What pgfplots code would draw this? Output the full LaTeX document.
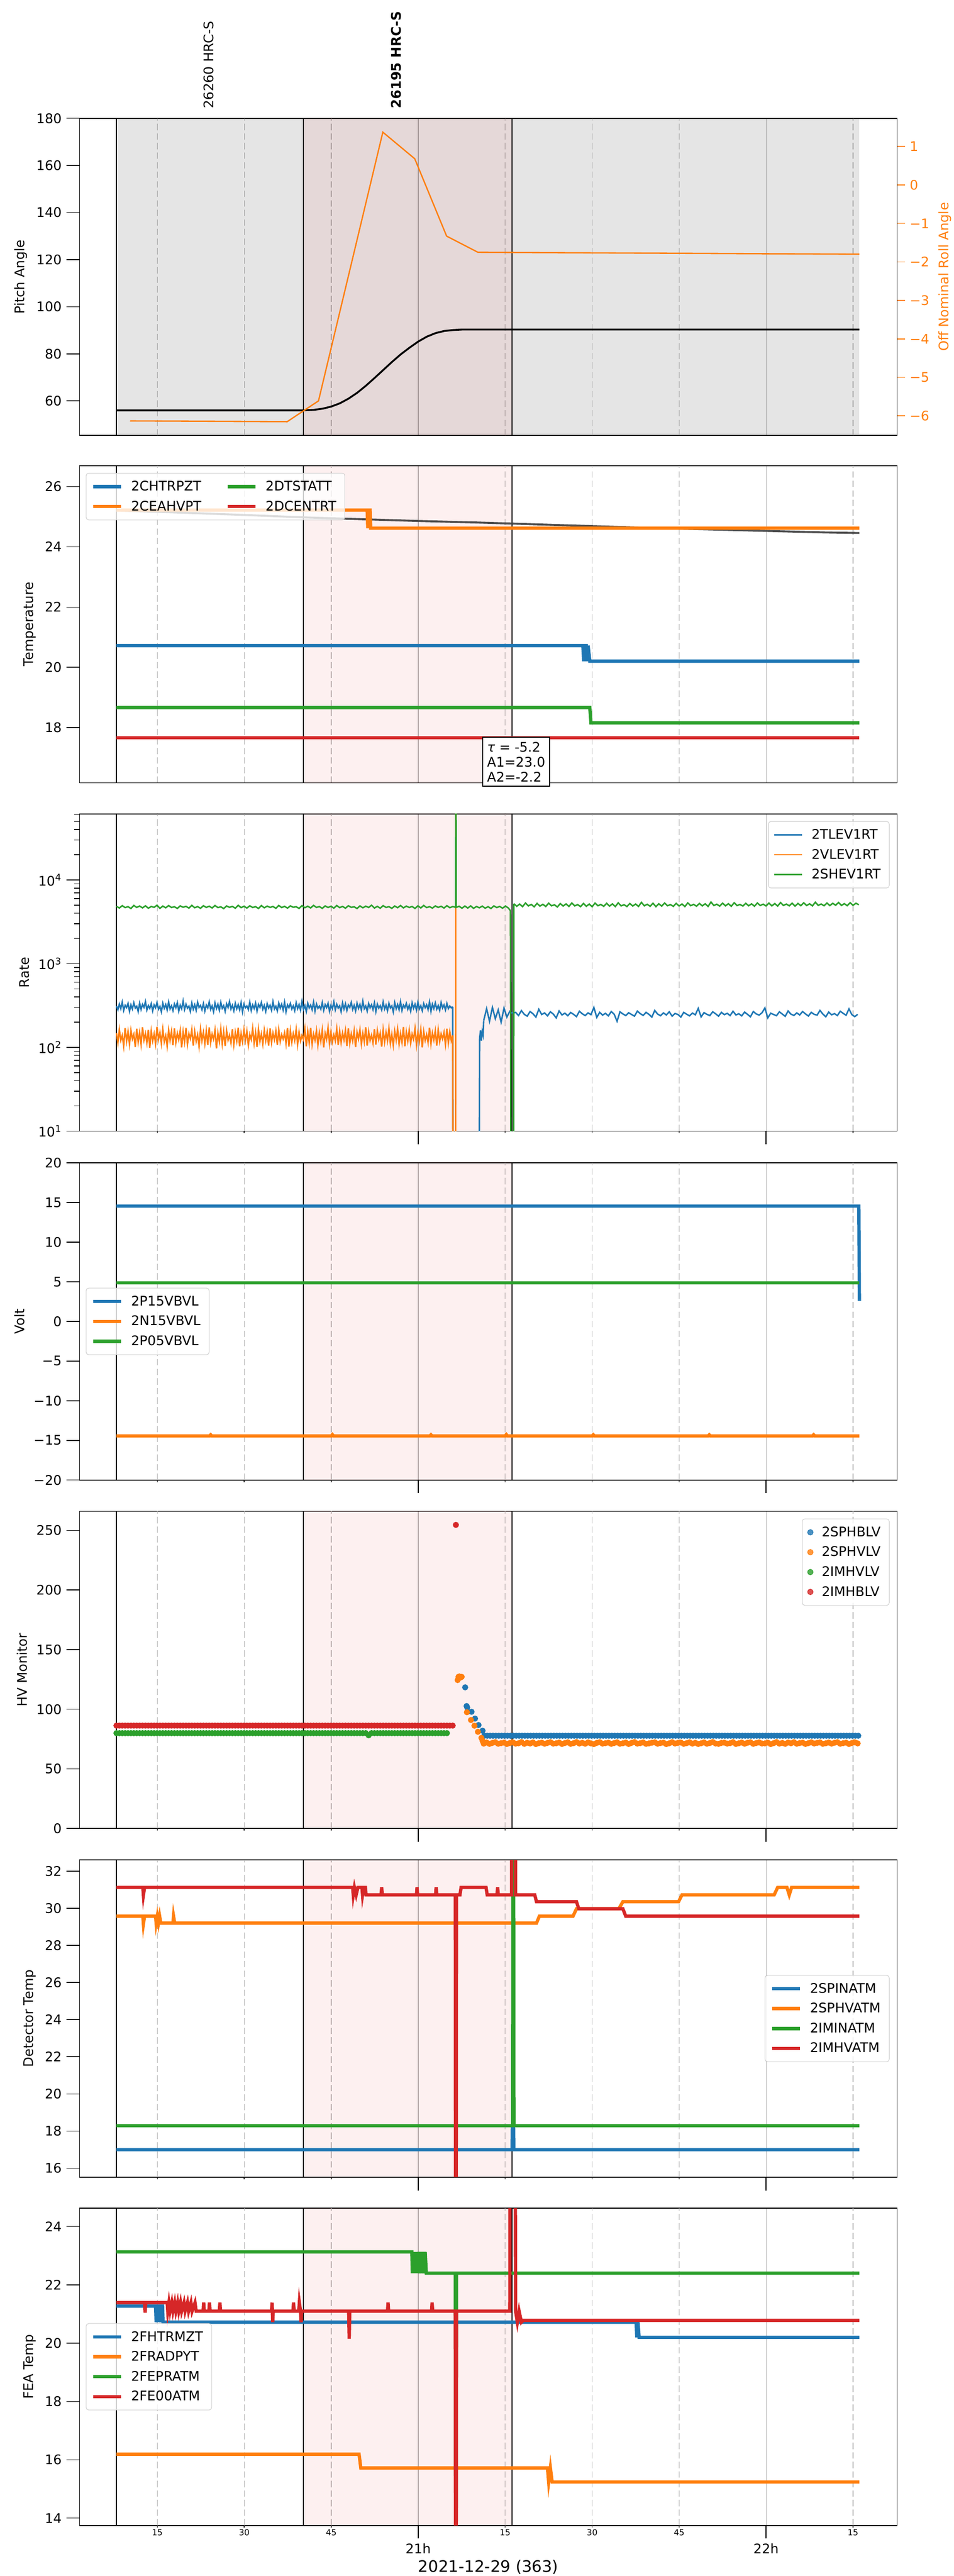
\documentclass[border=0pt]{standalone}
\usepackage{fontspec}
\setmainfont{DejaVu Sans}
\usepackage{pgfplots}
\pgfplotsset{compat=1.18}
\definecolor{tblue}{HTML}{1F77B4}
\definecolor{torange}{HTML}{FF7F0E}
\definecolor{tgreen}{HTML}{2CA02C}
\definecolor{tred}{HTML}{D62728}
\definecolor{gridc}{HTML}{B0B0B0}
\definecolor{shred}{RGB}{220,0,0}
\definecolor{fitc}{HTML}{444444}
\newcommand{\tenpt}{\fontsize{10}{12}\selectfont}
\newcommand{\smallpt}{\fontsize{6.3}{7.6}\selectfont}
\pgfplotsset{
  panel/.style={
    scale only axis, width=617pt, height=239.4pt, anchor=north west,
    xmin=1.6, xmax=142.6,
    xtick={60,120}, xticklabels={},
    extra x ticks={15,30,45,75,90,105,135}, extra x tick labels={},
    extra x tick style={grid=major, major tick length=1.5pt,
      major grid style={color=gridc, line width=0.5pt, dash pattern=on 4.8pt off 2.4pt}},
    xmajorgrids, major grid style={color=gridc, line width=0.5pt},
    tick align=outside, major tick length=10pt, minor tick length=4pt,
    xtick pos=left, ytick pos=left,
    tick style={black, line width=0.6pt},
    axis line style={line width=0.7pt},
    tick label style={font=\tenpt},
    label style={font=\tenpt},
    /pgf/number format/assume math mode=true,
    legend cell align=left,
    legend image code/.code={\draw[##1] (0pt,0pt) -- (21pt,0pt);},
    legend style={draw=black!20, fill=white, fill opacity=0.8, text opacity=1,
      rounded corners=2pt, font=\tenpt, inner xsep=4pt, inner ysep=3.5pt, row sep=1.7pt,
      nodes={text height=7.3pt, text depth=1pt, inner sep=2.5pt},
      /tikz/every odd column/.append style={column sep=4pt}},
  },
  shade/.style={draw=none, fill=shred, fill opacity=0.06, forget plot},
  vline/.style={black, line width=0.6pt, forget plot},
  tl/.style={line width=2.5pt},
}
\begin{document}
\begin{tikzpicture}
%================ Panel 1 =================
\begin{axis}[panel, at={(60.1pt,-89.28pt)}, ymin=45.3, ymax=180, ytick={60,80,...,180},
  ylabel={Pitch Angle}, xtick style={draw=none}]
\addplot[draw=none, fill=black, fill opacity=0.1, forget plot] coordinates {(7.95,0)(136.1,0)(136.1,300)(7.95,300)} -- cycle;
\addplot[shade] coordinates {(40.2,0)(76.2,0)(76.2,300)(40.2,300)} -- cycle;
\addplot[vline] coordinates {(7.95,0)(7.95,300)};
\addplot[vline] coordinates {(40.2,0)(40.2,300)};
\addplot[vline] coordinates {(76.2,0)(76.2,300)};
\addplot[black, line width=1.4pt] coordinates {(7.95,56.0)(40.2,56.0)(42,56.2)(43.5,56.7)(45,57.6)(46.5,59)(48,61)(49.5,63.5)(51,66.5)(52.5,69.8)(54,73.2)(55.5,76.6)(57,79.8)(58.5,82.6)(60,85.2)(61.5,87.3)(63,88.8)(64.5,89.7)(66,90.1)(67.5,90.3)(136.1,90.3)};
\coordinate (obsA) at (axis cs:23.9,180);
\coordinate (obsB) at (axis cs:56.2,180);
\end{axis}
\begin{axis}[scale only axis, width=617pt, height=239.4pt, anchor=north west, at={(60.1pt,-89.28pt)},
  xmin=1.6, xmax=142.6, axis x line=none, axis y line*=right,
  ymin=-6.51, ymax=1.73, ytick={-6,-5,-4,-3,-2,-1,0,1}, yticklabels={−6,−5,−4,−3,−2,−1,0,1},
  tick align=outside, major tick length=6pt, ytick style={torange, line width=0.6pt},
  y tick label style={font=\tenpt, text=torange}, ylabel={Off Nominal Roll Angle},
  ylabel style={font=\tenpt, text=torange}, axis line style={line width=0.7pt}]
\addplot[torange, line width=1pt] coordinates {(10.3,-6.13)(37.4,-6.15)(42.8,-5.61)(53.9,1.37)(59.4,0.68)(64.9,-1.33)(70.3,-1.75)(136.1,-1.80)};
\end{axis}
\node[rotate=90, anchor=west, inner sep=0pt, font=\tenpt] at ([yshift=7.2pt]obsA) {26260 HRC-S};
\node[rotate=90, anchor=west, inner sep=0pt, font=\tenpt\bfseries] at ([yshift=7.2pt]obsB) {26195 HRC-S};
%================ Panel 2 =================
\begin{axis}[panel, at={(60.1pt,-351.36pt)}, ymin=16.16, ymax=26.70, ytick={18,20,22,24,26},
  ylabel={Temperature}, xtick style={draw=none}, legend columns=2,
  legend style={at={(0.0076,0.977)}, anchor=north west, /tikz/every even column/.append style={column sep=16pt}}]
\addplot[shade] coordinates {(40.2,0)(76.2,0)(76.2,300)(40.2,300)} -- cycle;
\addplot[vline] coordinates {(7.95,0)(7.95,300)};
\addplot[vline] coordinates {(40.2,0)(40.2,300)};
\addplot[vline] coordinates {(76.2,0)(76.2,300)};
\addplot[fitc, line width=1.5pt, opacity=0.95, forget plot] coordinates {(7.95,25.21)(20,25.13)(30,25.06)(40.2,24.98)(50,24.92)(60,24.86)(70,24.81)(80,24.75)(90,24.69)(100,24.63)(110,24.58)(120,24.53)(130,24.48)(136.1,24.46)};
\addplot[tblue, tl] coordinates {(7.95,20.72)(88.4,20.72)(88.55,20.2)(88.7,20.72)(89.0,20.72)(89.15,20.2)(89.3,20.72)(89.6,20.2)(136.1,20.2)};
\addlegendentry{2CHTRPZT}
\addplot[tgreen, tl] coordinates {(7.95,18.66)(89.6,18.66)(89.8,18.15)(136.1,18.15)};
\addlegendentry{2DTSTATT}
\addplot[torange, tl] coordinates {(7.95,25.22)(51.2,25.22)(51.3,24.62)(51.4,25.22)(51.7,25.22)(51.8,24.62)(136.1,24.62)};
\addlegendentry{2CEAHVPT}
\addplot[tred, tl] coordinates {(7.95,17.66)(136.1,17.66)};
\addlegendentry{2DCENTRT}
\coordinate (tbox) at (axis cs:76.9,17.69);
\end{axis}
\node[draw=black, fill=white, line width=0.8pt, anchor=north, font=\fontsize{10}{11.3}\selectfont, align=left, inner sep=3.5pt] at (tbox) {{\itshape τ} = -5.2\\A1=23.0\\A2=-2.2};
%================ Panel 3 =================
\begin{axis}[panel, at={(60.1pt,-614.16pt)}, ymode=log, ymin=10, ymax=61660,
  ytick={10,100,1000,10000}, yticklabels={10\textsuperscript{1},10\textsuperscript{2},10\textsuperscript{3},10\textsuperscript{4}},
  minor ytick={20,30,40,50,60,70,80,90,200,300,400,500,600,700,800,900,2000,3000,4000,5000,6000,7000,8000,9000,20000,30000,40000,50000,60000},
  ylabel={Rate},
  legend style={at={(0.9907,0.977)}, anchor=north east}]
\addplot[shade] coordinates {(40.2,1)(76.2,1)(76.2,1e7)(40.2,1e7)} -- cycle;
\addplot[vline] coordinates {(7.95,1)(7.95,1e7)};
\addplot[vline] coordinates {(40.2,1)(40.2,1e7)};
\addplot[vline] coordinates {(76.2,1)(76.2,1e7)};
\addplot[tblue, line width=1.1pt] table[row sep=\\, x expr=\coordindex*0.25+7.95, y index=0] {312\\281\\329\\290\\347\\276\\318\\299\\335\\270\\322\\287\\341\\295\\310\\268\\338\\284\\326\\301\\352\\279\\316\\292\\333\\273\\321\\297\\344\\285\\309\\266\\337\\293\\325\\280\\349\\288\\314\\275\\330\\298\\342\\271\\319\\289\\357\\283\\328\\294\\311\\269\\339\\286\\323\\277\\346\\300\\317\\282\\334\\272\\320\\296\\350\\284\\313\\267\\340\\291\\327\\278\\345\\293\\315\\270\\331\\299\\353\\287\\318\\274\\336\\289\\324\\281\\343\\265\\329\\297\\312\\283\\348\\276\\321\\292\\338\\271\\326\\300\\344\\285\\317\\269\\333\\295\\319\\278\\351\\288\\310\\273\\339\\294\\328\\280\\346\\266\\322\\298\\335\\287\\313\\275\\342\\290\\325\\279\\354\\284\\316\\268\\337\\296\\320\\282\\347\\272\\330\\293\\311\\286\\343\\277\\324\\299\\336\\270\\318\\289\\349\\281\\327\\295\\314\\267\\340\\288\\332\\276\\321\\300\\345\\284\\317\\273\\338\\292\\326\\279\\356\\290\\312\\271\\334\\297\\323\\283\\341\\268\\329\\294\\315\\280\\348\\287\\319\\274\\337\\296\\313\\265\\343\\289\\325\\282\\351\\276\\320\\299\\336\\285\\318\\270\\340\\293\\327\\279\\346\\288\\314\\274\\333\\298\\322\\283\\350\\269\\328\\291\\339\\286\\316\\277\\344\\295\\321\\280\\335\\290\\312\\297\\306\\};
\addlegendentry{2TLEV1RT}
\addplot[tblue, line width=1.1pt, forget plot] coordinates {(65.95,306)(66.0,1)(70.5,1)(70.6,130)(70.75,160)(70.9,120)(71.05,155)(71.2,140)(71.3,210)};
\addplot[tblue, line width=1.1pt, forget plot] table[row sep=\\, x expr=\coordindex*0.5+71.3, y index=0] {210\\290\\205\\300\\220\\280\\200\\295\\230\\270\\255\\262\\240\\275\\248\\236\\268\\252\\230\\285\\247\\258\\238\\266\\250\\225\\272\\244\\256\\239\\261\\248\\233\\270\\252\\240\\258\\246\\300\\228\\262\\243\\255\\238\\268\\249\\205\\266\\251\\240\\259\\247\\236\\271\\253\\241\\262\\248\\230\\276\\250\\239\\258\\244\\266\\236\\254\\247\\230\\262\\249\\238\\257\\245\\292\\231\\260\\248\\240\\266\\252\\236\\262\\246\\255\\240\\270\\244\\252\\238\\264\\248\\232\\268\\251\\243\\259\\296\\225\\256\\247\\239\\266\\250\\235\\272\\249\\241\\258\\244\\268\\251\\237\\262\\248\\243\\276\\250\\232\\264\\245\\253\\240\\270\\255\\242\\288\\246\\233\\248\\};
\addplot[torange, line width=1.1pt] table[row sep=\\, x expr=\coordindex*0.25+7.95, y index=0] {148\\112\\163\\121\\139\\104\\170\\118\\155\\109\\160\\126\\143\\101\\167\\115\\151\\108\\174\\122\\146\\113\\162\\99\\157\\119\\145\\110\\176\\124\\150\\111\\165\\117\\138\\103\\161\\121\\156\\106\\168\\114\\148\\123\\160\\100\\153\\116\\171\\109\\146\\127\\163\\105\\155\\118\\142\\102\\166\\120\\152\\111\\158\\107\\173\\114\\144\\125\\161\\97\\149\\117\\167\\110\\154\\104\\159\\122\\140\\113\\165\\108\\151\\119\\172\\103\\147\\116\\162\\121\\156\\106\\143\\124\\169\\112\\150\\101\\164\\118\\145\\110\\160\\120\\153\\105\\168\\114\\148\\123\\157\\107\\163\\117\\142\\126\\149\\111\\170\\102\\158\\115\\146\\121\\164\\108\\152\\119\\139\\124\\166\\103\\155\\113\\171\\109\\144\\122\\159\\106\\150\\118\\162\\100\\147\\125\\173\\111\\153\\116\\141\\120\\167\\107\\156\\114\\149\\123\\160\\104\\169\\112\\145\\119\\158\\101\\152\\126\\163\\110\\147\\117\\174\\105\\154\\121\\140\\113\\165\\108\\159\\124\\148\\102\\162\\116\\151\\120\\170\\111\\143\\106\\157\\122\\166\\109\\146\\115\\175\\103\\153\\119\\161\\112\\144\\125\\168\\107\\150\\118\\164\\100\\155\\121\\142\\114\\172\\110\\149\\123\\158\\105\\163\\117\\145\\126\\151\\108\\167\\113\\154\\120\\139\\};
\addlegendentry{2VLEV1RT}
\addplot[torange, line width=1.1pt, forget plot] coordinates {(65.95,139)(66.0,1)(66.45,1)(66.5,1e6)(136.1,1e6)};
\addplot[tgreen, line width=1.1pt] table[row sep=\\, x expr=\coordindex*0.5+7.95, y index=0] {4850\\4620\\4930\\4680\\4800\\4560\\4960\\4700\\4880\\4640\\4910\\4600\\4820\\4710\\4990\\4580\\4870\\4650\\4940\\4690\\4790\\4570\\4900\\4720\\4840\\4610\\4970\\4660\\4810\\4590\\4920\\4700\\4860\\4630\\4950\\4680\\4780\\4550\\4890\\4710\\4830\\4600\\4980\\4670\\4850\\4620\\4910\\4690\\4800\\4560\\4940\\4650\\4870\\4700\\4820\\4590\\4960\\4680\\4840\\4610\\4900\\4720\\4790\\4570\\4930\\4660\\4860\\4630\\4970\\4700\\4810\\4580\\4890\\4690\\4850\\4610\\4950\\4670\\4830\\4600\\4920\\4710\\4780\\4560\\4900\\4650\\4860\\4690\\4990\\4620\\4840\\4600\\4930\\4700\\4800\\4580\\4880\\4660\\4950\\4640\\4870\\4690\\4820\\4570\\4910\\4630\\4960\\4680\\4800\\4610\\4890\\4700\\4850\\4620\\4930\\4660\\4810\\4720\\};
\addlegendentry{2SHEV1RT}
\addplot[tgreen, line width=1.1pt, forget plot] coordinates {(66.45,4720)(66.5,1e6)(66.55,4700)(67.05,4850)(67.55,4600)(68.05,4880)(68.55,4620)(69.05,4900)(69.55,4580)(70.05,4820)(70.55,4650)(71.05,4870)(71.55,4600)(72.05,4800)(72.55,4560)(73.05,4900)(73.55,4680)(74.05,4830)(74.55,4600)(75.05,4880)(75.55,4620)(75.9,4300)(76.0,1)(76.45,1)(76.5,5200)};
\addplot[tgreen, line width=1.1pt, forget plot] table[row sep=\\, x expr=\coordindex*0.5+76.5, y index=0] {5200\\4850\\5150\\4800\\5300\\4900\\5100\\4780\\5250\\4870\\5120\\4820\\5280\\4910\\5050\\4760\\5220\\4880\\5170\\4830\\5310\\4900\\5080\\4800\\5240\\4850\\5150\\4790\\5290\\4920\\5100\\4840\\5260\\4870\\5180\\4810\\5330\\4900\\5060\\4820\\5230\\4880\\5150\\4830\\5400\\4910\\5120\\4850\\5270\\4800\\5190\\4870\\5300\\4920\\5080\\4840\\5250\\4890\\5160\\4810\\5320\\4930\\5110\\4860\\5240\\4900\\5190\\4830\\5450\\4950\\5130\\4870\\5280\\4910\\5200\\4850\\5340\\4940\\5100\\4880\\5260\\4920\\5180\\4860\\5310\\4950\\5140\\4890\\5290\\4900\\5220\\4880\\5370\\4960\\5150\\4910\\5280\\4870\\5240\\4930\\5330\\4950\\5190\\4900\\5420\\4970\\5160\\4920\\5300\\4940\\5260\\4990\\5380\\4960\\5210\\4930\\5350\\4980\\5270\\5050\\};
\end{axis}
%================ Panel 4 =================
\begin{axis}[panel, at={(60.1pt,-877.5pt)}, ymin=-20, ymax=20, ytick={-20,-15,...,20},
  yticklabels={−20,−15,−10,−5,0,5,10,15,20}, ylabel={Volt},
  legend style={at={(0.0076,0.5)}, anchor=west}]
\addplot[shade] coordinates {(40.2,-100)(76.2,-100)(76.2,100)(40.2,100)} -- cycle;
\addplot[vline] coordinates {(7.95,-100)(7.95,100)};
\addplot[vline] coordinates {(40.2,-100)(40.2,100)};
\addplot[vline] coordinates {(76.2,-100)(76.2,100)};
\addplot[tblue, tl] coordinates {(7.95,14.54)(136.0,14.54)(136.1,2.6)};
\addlegendentry{2P15VBVL}
\addplot[torange, tl] coordinates {(7.95,-14.45)(24.0,-14.45)(24.2,-14.3)(24.4,-14.45)(45,-14.45)(45.2,-14.28)(45.4,-14.45)(62,-14.45)(62.2,-14.3)(62.4,-14.45)(75,-14.45)(75.2,-14.27)(75.4,-14.45)(90,-14.45)(90.2,-14.3)(90.4,-14.45)(110,-14.45)(110.2,-14.3)(110.4,-14.45)(128,-14.45)(128.2,-14.3)(128.4,-14.45)(136.1,-14.45)};
\addlegendentry{2N15VBVL}
\addplot[tgreen, tl] coordinates {(7.95,4.88)(136.1,4.88)};
\addlegendentry{2P05VBVL}
\end{axis}
%================ Panel 5 =================
\begin{axis}[panel, at={(60.1pt,-1140.5pt)}, ymin=0, ymax=266, ytick={0,50,...,250},
  ylabel={HV Monitor},
  legend style={at={(0.9907,0.977)}, anchor=north east},
  legend image code/.code={\draw[#1] plot coordinates {(10.5pt,0pt)};}]
\addplot[shade] coordinates {(40.2,-100)(76.2,-100)(76.2,400)(40.2,400)} -- cycle;
\addplot[vline] coordinates {(7.95,-100)(7.95,400)};
\addplot[vline] coordinates {(40.2,-100)(40.2,400)};
\addplot[vline] coordinates {(76.2,-100)(76.2,400)};
\addplot[tblue, only marks, mark=*, mark size=2.1pt] coordinates {(68.1,118.4)(68.35,102.7)(68.45,101.5)(69.2,97.9)(69.8,92.2)(70.4,86.8)(71.1,82.0)};
\addlegendentry{2SPHBLV}
\addplot[tblue, only marks, mark=*, mark size=2.1pt, forget plot] table[row sep=\\, x expr=\coordindex*0.5+71.4, y index=0] {77.8\\77.8\\77.8\\77.8\\77.8\\77.8\\77.8\\77.8\\77.8\\77.8\\77.8\\77.8\\77.8\\77.8\\77.8\\77.8\\77.8\\77.8\\77.8\\77.8\\77.8\\77.8\\77.8\\77.8\\77.8\\77.8\\77.8\\77.8\\77.8\\77.8\\77.8\\77.8\\77.8\\77.8\\77.8\\77.8\\77.8\\77.8\\77.8\\77.8\\77.8\\77.8\\77.8\\77.8\\77.8\\77.8\\77.8\\77.8\\77.8\\77.8\\77.8\\77.8\\77.8\\77.8\\77.8\\77.8\\77.8\\77.8\\77.8\\77.8\\77.8\\77.8\\77.8\\77.8\\77.8\\77.8\\77.8\\77.8\\77.8\\77.8\\77.8\\77.8\\77.8\\77.8\\77.8\\77.8\\77.8\\77.8\\77.8\\77.8\\77.8\\77.8\\77.8\\77.8\\77.8\\77.8\\77.8\\77.8\\77.8\\77.8\\77.8\\77.8\\77.8\\77.8\\77.8\\77.8\\77.8\\77.8\\77.8\\77.8\\77.8\\77.8\\77.8\\77.8\\77.8\\77.8\\77.8\\77.8\\77.8\\77.8\\77.8\\77.8\\77.8\\77.8\\77.8\\77.8\\77.8\\77.8\\77.8\\77.8\\77.8\\77.8\\77.8\\77.8\\77.8\\77.8\\77.8\\77.8\\77.8\\77.8\\};
\addplot[torange, only marks, mark=*, mark size=2.1pt] coordinates {(66.8,124.5)(66.95,127.2)(67.1,127.5)(67.3,126.6)(67.5,127.2)(68.4,97.5)(69.1,91.0)(69.7,86.2)(70.3,81.1)(70.9,76.0)(71.1,73.5)};
\addlegendentry{2SPHVLV}
\addplot[torange, only marks, mark=*, mark size=2.1pt, forget plot] table[row sep=\\, x expr=\coordindex*0.5+71.3, y index=0] {71.2\\72.1\\71.0\\71.8\\72.4\\71.1\\71.6\\72.0\\70.9\\71.7\\72.3\\71.2\\71.5\\72.5\\71.0\\71.9\\71.3\\72.2\\70.8\\71.6\\72.0\\71.1\\71.8\\72.4\\71.2\\71.5\\72.1\\70.9\\71.7\\72.3\\71.0\\71.6\\72.5\\71.3\\71.9\\71.1\\72.2\\71.4\\70.8\\71.8\\72.4\\71.2\\71.6\\72.0\\71.0\\71.7\\72.3\\71.1\\71.5\\72.1\\70.9\\71.8\\72.5\\71.2\\71.6\\72.2\\71.0\\71.4\\71.9\\72.3\\71.1\\71.7\\72.0\\70.8\\71.5\\72.4\\71.3\\71.8\\72.1\\71.0\\71.6\\72.3\\71.2\\71.9\\70.9\\71.5\\72.2\\71.1\\71.7\\72.5\\71.3\\71.0\\71.8\\72.0\\71.2\\71.6\\72.4\\70.9\\71.5\\72.1\\71.1\\71.9\\72.3\\71.0\\71.7\\72.2\\71.3\\71.4\\72.0\\70.8\\71.6\\72.5\\71.2\\71.8\\71.0\\72.1\\71.5\\72.4\\71.1\\71.7\\72.0\\70.9\\71.6\\72.3\\71.3\\71.8\\72.2\\71.0\\71.5\\72.1\\71.2\\71.9\\72.4\\71.1\\71.6\\72.0\\70.9\\71.7\\72.3\\71.4\\};
\addplot[tgreen, only marks, mark=*, mark size=2.1pt] table[row sep=\\, x expr=\coordindex*0.5+7.95, y index=0] {80\\80\\80\\80\\80\\80\\80\\80\\80\\80\\80\\80\\80\\80\\80\\80\\80\\80\\80\\80\\80\\80\\80\\80\\80\\80\\80\\80\\80\\80\\80\\80\\80\\80\\80\\80\\80\\80\\80\\80\\80\\80\\80\\80\\80\\80\\80\\80\\80\\80\\80\\80\\80\\80\\80\\80\\80\\80\\80\\80\\80\\80\\80\\80\\80\\80\\80\\80\\80\\80\\80\\80\\80\\80\\80\\80\\80\\80\\80\\80\\80\\80\\80\\80\\80\\80\\80\\78.2\\80\\80\\80\\80\\80\\80\\80\\80\\80\\80\\80\\80\\80\\80\\80\\80\\80\\80\\80\\80\\80\\80\\80\\80\\80\\80\\80\\};
\addlegendentry{2IMHVLV}
\addplot[tred, only marks, mark=*, mark size=2.1pt] table[row sep=\\, x expr=\coordindex*0.5+7.95, y index=0] {86.3\\86.3\\86.3\\86.3\\86.3\\86.3\\86.3\\86.3\\86.3\\86.3\\86.3\\86.3\\86.3\\86.3\\86.3\\86.3\\86.3\\86.3\\86.3\\86.3\\86.3\\86.3\\86.3\\86.3\\86.3\\86.3\\86.3\\86.3\\86.3\\86.3\\86.3\\86.3\\86.3\\86.3\\86.3\\86.3\\86.3\\86.3\\86.3\\86.3\\86.3\\86.3\\86.3\\86.3\\86.3\\86.3\\86.3\\86.3\\86.3\\86.3\\86.3\\86.3\\86.3\\86.3\\86.3\\86.3\\86.3\\86.3\\86.3\\86.3\\86.3\\86.3\\86.3\\86.3\\86.3\\86.3\\86.3\\86.3\\86.3\\86.3\\86.3\\86.3\\86.3\\86.3\\86.3\\86.3\\86.3\\86.3\\86.3\\86.3\\86.3\\86.3\\86.3\\86.3\\86.3\\86.3\\86.3\\86.3\\86.3\\86.3\\86.3\\86.3\\86.3\\86.3\\86.3\\86.3\\86.3\\86.3\\86.3\\86.3\\86.3\\86.3\\86.3\\86.3\\86.3\\86.3\\86.3\\86.3\\86.3\\86.3\\86.3\\86.3\\86.3\\86.3\\86.3\\86.3\\86.3\\};
\addlegendentry{2IMHBLV}
\addplot[tred, only marks, mark=*, mark size=2.1pt, forget plot] coordinates {(66.5,254.6)};
\end{axis}
%================ Panel 6 =================
\begin{axis}[panel, at={(60.1pt,-1403.6pt)}, ymin=15.52, ymax=32.6, ytick={16,18,...,32},
  ylabel={Detector Temp},
  legend style={at={(0.9907,0.5)}, anchor=east}]
\addplot[shade] coordinates {(40.2,0)(76.2,0)(76.2,100)(40.2,100)} -- cycle;
\addplot[vline] coordinates {(7.95,0)(7.95,100)};
\addplot[vline] coordinates {(40.2,0)(40.2,100)};
\addplot[vline] coordinates {(76.2,0)(76.2,100)};
\addplot[tblue, tl] coordinates {(7.95,17.0)(76.2,17.0)(76.25,18.2)(76.45,18.2)(76.5,17.0)(136.1,17.0)};
\addlegendentry{2SPINATM}
\addplot[torange, tl] coordinates {(7.95,29.57)(12.5,29.57)(12.6,29.15)(12.8,29.57)(14.7,29.57)(14.8,29.2)(15.0,29.57)(15.2,29.2)(15.4,29.57)(15.6,29.2)(17.7,29.2)(17.8,29.57)(18.0,29.2)(80.4,29.2)(80.9,29.57)(86.7,29.57)(87.3,29.97)(94.6,29.97)(95.3,30.35)(104.9,30.35)(105.5,30.72)(121.4,30.72)(122.0,31.12)(123.6,31.12)(124.0,30.72)(124.4,31.12)(136.1,31.12)};
\addlegendentry{2SPHVATM}
\addplot[tgreen, tl] coordinates {(7.95,18.29)(76.3,18.29)(76.35,40)(76.45,40)(76.5,18.29)(136.1,18.29)};
\addlegendentry{2IMINATM}
\addplot[tred, tl] coordinates {(7.95,31.12)(12.5,31.12)(12.6,30.7)(12.8,31.12)(48.7,31.12)(48.8,30.72)(49.0,31.12)(49.3,30.72)(49.6,31.12)(50.3,31.12)(50.4,30.72)(50.6,31.12)(50.9,31.12)(51.0,30.72)(53.6,30.72)(53.7,31.12)(53.8,30.72)(59.7,30.72)(59.8,31.12)(59.9,30.72)(63.0,30.72)(63.1,31.12)(63.2,30.72)(66.4,30.72)(66.45,10)(66.55,10)(66.6,30.72)(67.2,30.72)(67.4,31.12)(71.7,31.12)(71.9,30.72)(73.6,30.72)(73.7,31.12)(73.8,30.72)(76.1,30.72)(76.15,40)(76.75,40)(76.8,30.72)(80.1,30.72)(80.4,30.35)(87.3,30.35)(87.7,29.97)(95.3,29.97)(95.8,29.57)(136.1,29.57)};
\addlegendentry{2IMHVATM}
\end{axis}
%================ Panel 7 =================
\begin{axis}[panel, at={(60.1pt,-1666.4pt)}, ymin=13.75, ymax=24.63, ytick={14,16,...,24},
  ylabel={FEA Temp},
  legend style={at={(0.0076,0.5)}, anchor=west}]
\addplot[shade] coordinates {(40.2,0)(76.2,0)(76.2,100)(40.2,100)} -- cycle;
\addplot[vline] coordinates {(7.95,0)(7.95,100)};
\addplot[vline] coordinates {(40.2,0)(40.2,100)};
\addplot[vline] coordinates {(76.2,0)(76.2,100)};
\addplot[tblue, tl] coordinates {(7.95,21.27)(14.7,21.27)(14.8,20.72)(15.0,21.27)(15.3,21.27)(15.4,20.72)(15.6,21.27)(15.9,21.27)(16.0,20.72)(97.6,20.72)(97.7,20.2)(97.9,20.72)(98.1,20.2)(136.1,20.2)};
\addlegendentry{2FHTRMZT}
\addplot[torange, tl] coordinates {(7.95,16.19)(49.8,16.19)(50.1,15.72)(82.3,15.72)(82.5,15.24)(82.8,15.72)(83.1,15.24)(136.1,15.24)};
\addlegendentry{2FRADPYT}
\addplot[tgreen, tl] coordinates {(7.95,23.13)(58.9,23.13)(59.0,22.4)(59.2,23.13)(59.4,22.4)(59.6,23.13)(59.8,22.4)(60.0,23.13)(60.3,22.4)(60.6,23.13)(60.9,22.4)(61.2,23.13)(61.4,22.4)(66.4,22.4)(66.45,10)(66.55,10)(66.6,22.4)(136.1,22.4)};
\addlegendentry{2FEPRATM}
\addplot[tred, tl] coordinates {(7.95,21.39)(12.8,21.39)(12.9,21.05)(13.0,21.39)(16.7,21.39)(16.8,21.1)(17.0,21.39)(17.2,21.1)(17.5,21.39)(17.7,21.1)(18.0,21.39)(18.2,21.1)(18.5,21.39)(18.7,21.1)(19.0,21.39)(19.2,21.1)(19.6,21.39)(19.8,21.1)(20.2,21.39)(20.4,21.1)(20.8,21.39)(21.0,21.1)(21.5,21.39)(21.7,21.1)(22.9,21.1)(23.0,21.39)(23.1,21.1)(23.9,21.1)(24.0,21.39)(24.1,21.1)(25.7,21.1)(25.8,21.39)(25.9,21.1)(34.7,21.1)(34.8,21.39)(34.9,20.72)(35.0,21.1)(38.4,21.1)(38.5,21.39)(38.6,21.1)(39.4,21.1)(39.5,21.39)(39.7,21.1)(39.8,20.72)(39.9,21.1)(48.0,21.1)(48.1,20.15)(48.2,21.1)(54.7,21.1)(54.8,21.39)(54.9,21.1)(62.3,21.1)(62.4,21.39)(62.5,21.1)(66.4,21.1)(66.45,10)(66.55,10)(66.6,21.1)(75.8,21.1)(75.85,30)(76.7,30)(76.8,21.1)(77.1,20.72)(77.4,21.1)(77.8,20.72)(78.1,20.78)(136.1,20.78)};
\addlegendentry{2FE00ATM}
\coordinate (L15) at (axis cs:15,13.75);
\coordinate (L30) at (axis cs:30,13.75);
\coordinate (L45) at (axis cs:45,13.75);
\coordinate (L75) at (axis cs:75,13.75);
\coordinate (L90) at (axis cs:90,13.75);
\coordinate (L105) at (axis cs:105,13.75);
\coordinate (L135) at (axis cs:135,13.75);
\coordinate (L60) at (axis cs:60,13.75);
\coordinate (L120) at (axis cs:120,13.75);
\coordinate (Lmid) at (axis cs:72.1,13.75);
\end{axis}
\foreach \p/\l in {15/15,30/30,45/45,75/15,90/30,105/45,135/15}
  \node[font=\smallpt, anchor=north, inner sep=0pt] at ([yshift=-2.9pt]L\p) {\l};
\node[font=\tenpt, anchor=north, inner sep=0pt] at ([yshift=-13.3pt]L60) {21h};
\node[font=\tenpt, anchor=north, inner sep=0pt] at ([yshift=-13.3pt]L120) {22h};
\node[font=\fontsize{12}{14}\selectfont, anchor=north, inner sep=0pt] at ([yshift=-26pt]Lmid) {2021-12-29 (363)};
\pgfresetboundingbox
\path (0pt,0pt) rectangle (720pt,-1944pt);
\end{tikzpicture}
\end{document}
